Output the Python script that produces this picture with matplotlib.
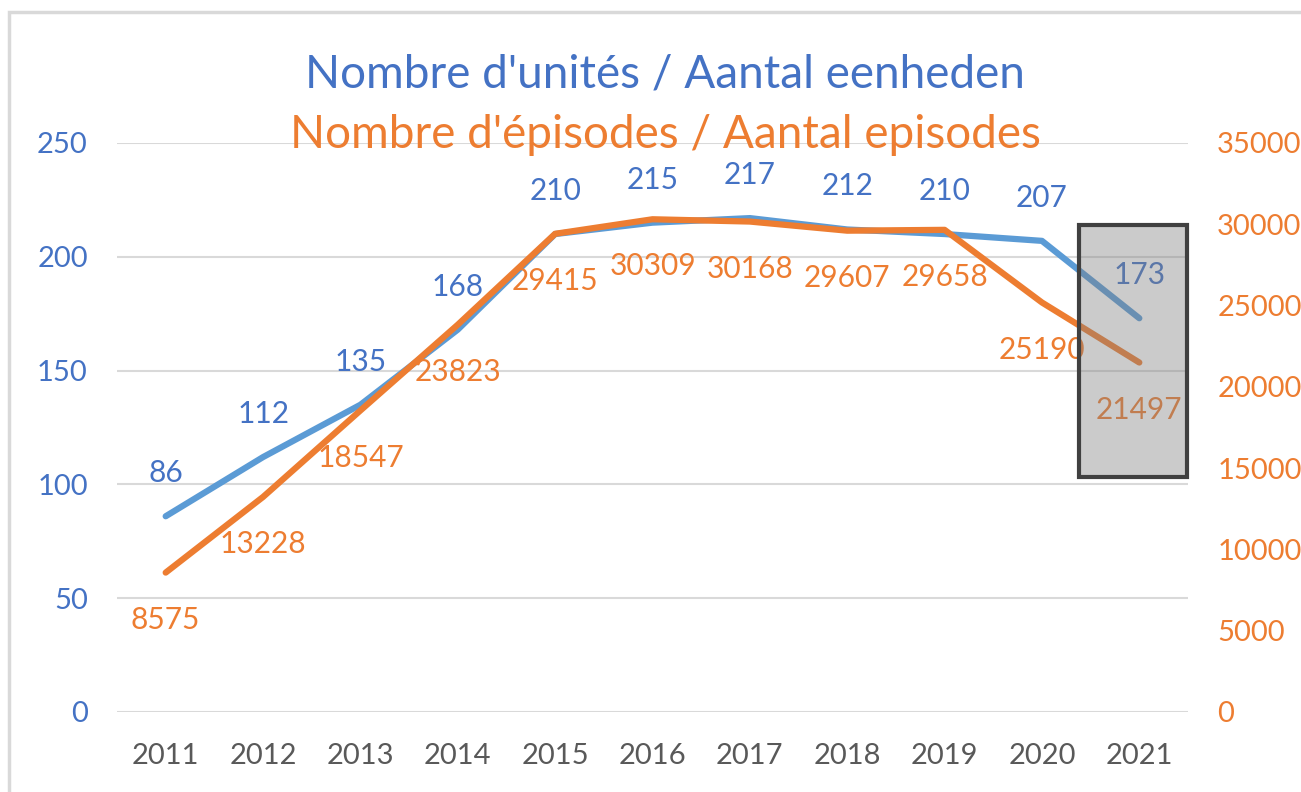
import matplotlib
matplotlib.use("Agg")
import matplotlib.pyplot as plt
from matplotlib.patches import Rectangle

plt.rcParams['font.family'] = ['Lato', 'DejaVu Sans']

# donnees
annees = ["2011", "2012", "2013", "2014", "2015", "2016", "2017", "2018", "2019", "2020", "2021"]
unites = [86, 112, 135, 168, 210, 215, 217, 212, 210, 207, 173]
episodes = [8575, 13228, 18547, 23823, 29415, 30309, 30168, 29607, 29658, 25190, 21497]
ticks_gauche = [0, 50, 100, 150, 200, 250]
ticks_droite = [0, 5000, 10000, 15000, 20000, 25000, 30000, 35000]

bleu_ligne = "#5B9BD5"
bleu_txt = "#4472C4"
orange = "#ED7D31"
gris_txt = "#595959"

fig = plt.figure(figsize=(13.01, 7.92), dpi=100)
ax = fig.add_axes([117/1301, 1-712/792, (1188-117)/1301, (712-143)/792])
ax2 = ax.twinx()

x = list(range(len(annees)))

ax.plot(x, unites, color=bleu_ligne, lw=4.5, solid_capstyle='round', zorder=3)
ax2.plot(x, episodes, color=orange, lw=4.5, solid_capstyle='round', zorder=3)

ax.set_xlim(-0.5, len(annees)-0.5)
ax.set_ylim(0, 250)
ax2.set_ylim(0, 35000)
ax.set_yticks(ticks_gauche)
ax2.set_yticks(ticks_droite)
ax.set_xticks(x)
ax.set_xticklabels(annees)

# grille
for t in ticks_gauche:
    ax.axhline(t, color="#D9D9D9", lw=1.5, zorder=0)

for a in (ax, ax2):
    for s in a.spines.values():
        s.set_visible(False)
    a.tick_params(length=0)

ax.tick_params(axis='y', colors=bleu_txt, labelsize=21, pad=21)
ax.tick_params(axis='x', colors=gris_txt, labelsize=21, pad=22)
ax2.tick_params(axis='y', colors=orange, labelsize=21, pad=21)

# etiquettes
for i, v in enumerate(unites):
    ax.annotate(str(v), (i, v), xytext=(0, 31), textcoords='offset points',
                ha='center', va='center', color=bleu_txt, fontsize=21.5, zorder=4)
for i, v in enumerate(episodes):
    ax2.annotate(str(v), (i, v), xytext=(0, -34), textcoords='offset points',
                 ha='center', va='center', color=orange, fontsize=21.5, zorder=4)

# rectangle 2021
ax2.add_patch(Rectangle((10-0.615, 103.3*140), 1.105, (214-103.3)*140,
                        facecolor="#7F7F7F", alpha=0.4, edgecolor='none', zorder=5, clip_on=False))
ax2.add_patch(Rectangle((10-0.615, 103.3*140), 1.105, (214-103.3)*140,
                        facecolor='none', edgecolor="#404040", lw=3, zorder=6, clip_on=False))

# titres
fig.text(665/1301, 1-75/792, "Nombre d'unités / Aantal eenheden", color=bleu_txt,
         fontsize=33, ha='center', va='center')
fig.text(665/1301, 1-135/792, "Nombre d'épisodes / Aantal episodes", color=orange,
         fontsize=33, ha='center', va='center')

# cadre
fig.patches.append(Rectangle((9/1301, -0.1), 1.2, 1.1-12/792, transform=fig.transFigure,
                             fill=False, edgecolor="#D9D9D9", lw=2.5))

fig.savefig("out.png", dpi=100)
